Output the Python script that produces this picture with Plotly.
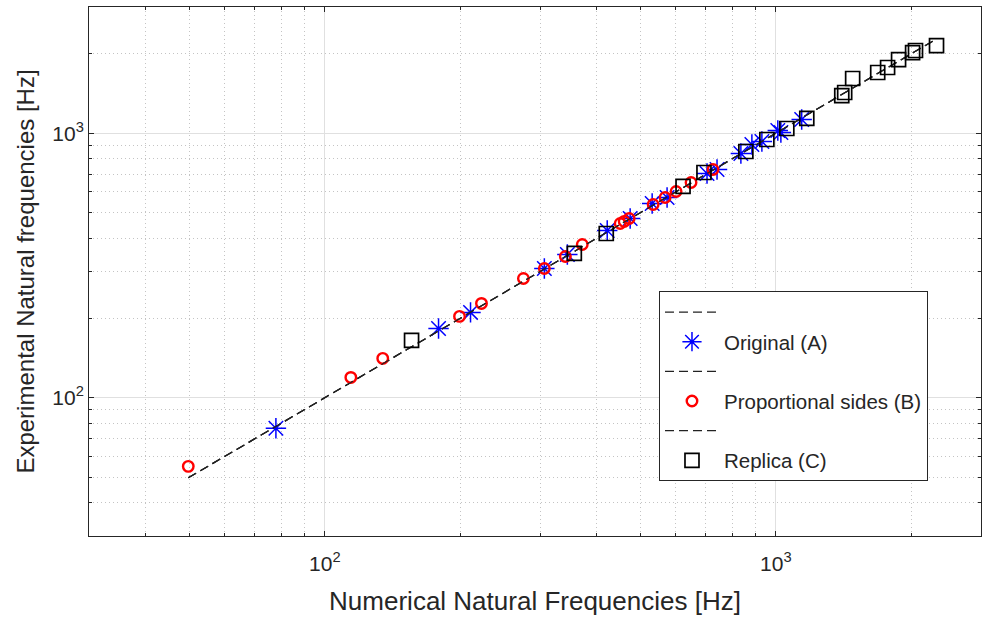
import plotly.graph_objects as go
import numpy as np

# Original (A)
a_num = [77.9, 178.7, 210.4, 306.7, 344.9, 422.8, 475.3, 531.8, 573.9, 703.7, 740.6, 836.5, 884.8, 931.2, 1010, 1026, 1141]
a_exp = [76.6, 182.7, 210.1, 308.1, 348.0, 428.8, 476.0, 542.4, 571.5, 704.3, 729.3, 838, 906, 930, 1024, 1006, 1127]

# Proportional sides (B)
b_num = [49.8, 114.2, 134.4, 198.9, 222.5, 275.6, 306.7, 341.4, 372.2, 451.7, 461.0, 472.9, 534.5, 568.2, 600.9, 648.6, 725.6]
b_exp = [55.0, 119.3, 140.8, 202.9, 227.2, 282.4, 308.1, 342.0, 379.6, 455.8, 463.9, 476.0, 537.7, 571.5, 602.2, 651.2, 729.3]

# Replica (C)
c_num = [155.7, 357.4, 420.7, 622.6, 692.8, 858.0, 955.1, 1057.6, 1171, 1400, 1421, 1480, 1682, 1769, 1871, 2010, 2040, 2271]
c_exp = [164.7, 351.1, 417.7, 629.0, 710.4, 852.8, 946.6, 1041.8, 1137, 1388, 1425, 1610, 1696, 1772, 1899, 2018, 2054, 2145]

series_names = ["Original (A)", "Proportional sides (B)", "Replica (C)"]
major_ticks = [100, 1000]
major_text = ["10<sup>2</sup>", "10<sup>3</sup>"]
minor_x = [40, 50, 60, 70, 80, 90, 200, 300, 400, 500, 600, 700, 800, 900, 2000]
minor_y = [40, 50, 60, 70, 80, 90, 200, 300, 400, 500, 600, 700, 800, 900, 2000]

fig = go.Figure()

styles = [
    dict(symbol="asterisk-open", size=17, color="#0000ff", lw=1.5),
    dict(symbol="circle-open", size=10.5, color="#ff0000", lw=2.4),
    dict(symbol="square-open", size=14, color="#000000", lw=1.7),
]

# identity reference line y = x spanning all numerical values (same phase for all three)
all_num = a_num + b_num + c_num
lo, hi = min(all_num), max(all_num)

for (xn, ye, name, st) in [(a_num, a_exp, series_names[0], styles[0]),
                           (b_num, b_exp, series_names[1], styles[1]),
                           (c_num, c_exp, series_names[2], styles[2])]:
    fig.add_trace(go.Scatter(
        x=[lo, hi], y=[lo, hi], mode="lines", name="",
        line=dict(color="#222222", width=1.2, dash="9px,5px"),
        showlegend=True, hoverinfo="skip"))
    fig.add_trace(go.Scatter(
        x=xn, y=ye, mode="markers", name=name,
        marker=dict(symbol=st["symbol"], size=st["size"], color=st["color"],
                    line=dict(color=st["color"], width=st["lw"]))))

axis_common = dict(
    type="log", automargin=False,
    showline=True, linecolor="#262626", linewidth=1, mirror="ticks",
    ticks="inside", ticklen=5, tickcolor="#262626",
    showgrid=True, gridcolor="#e0e0e0", gridwidth=1,
    zeroline=False,
    tickvals=major_ticks, ticktext=major_text,
    tickfont=dict(family="Liberation Sans, Arial", size=21, color="#262626"),
)

fig.update_xaxes(
    **axis_common,
    range=[np.log10(30), np.log10(2850)],
    ticklabelstandoff=9,
    minor=dict(tickvals=minor_x, showgrid=True, gridcolor="#c4c4c4",
               griddash="1px,3px", ticks="inside", ticklen=3, tickcolor="#262626"),
    title=dict(text="Numerical Natural Frequencies [Hz]",
               font=dict(family="Liberation Sans, Arial", size=26, color="#262626"),
               standoff=17),
)
fig.update_yaxes(
    **axis_common,
    range=[np.log10(30), np.log10(3000)],
    minor=dict(tickvals=minor_y, showgrid=True, gridcolor="#c4c4c4",
               griddash="1px,3px", ticks="inside", ticklen=3, tickcolor="#262626"),
    title=dict(text="Experimental Natural frequencies [Hz]",
               font=dict(family="Liberation Sans, Arial", size=24, color="#262626"),
               standoff=10),
)

fig.update_layout(
    width=982, height=619,
    margin=dict(l=89, r=1, t=7, b=83),
    paper_bgcolor="white", plot_bgcolor="white",
    font=dict(family="Liberation Sans, Arial", color="#262626"),
    legend=dict(
        x=0.639, y=0.4627, xanchor="left", yanchor="top",
        bgcolor="white", bordercolor="#262626", borderwidth=1,
        font=dict(family="Liberation Sans, Arial", size=20.5, color="#262626"),
        tracegroupgap=0, itemwidth=54,
    ),
)

fig.write_html("out.html",
               config={"displayModeBar": False},
               post_script="document.body.style.margin='0px';document.body.style.overflow='hidden';")
